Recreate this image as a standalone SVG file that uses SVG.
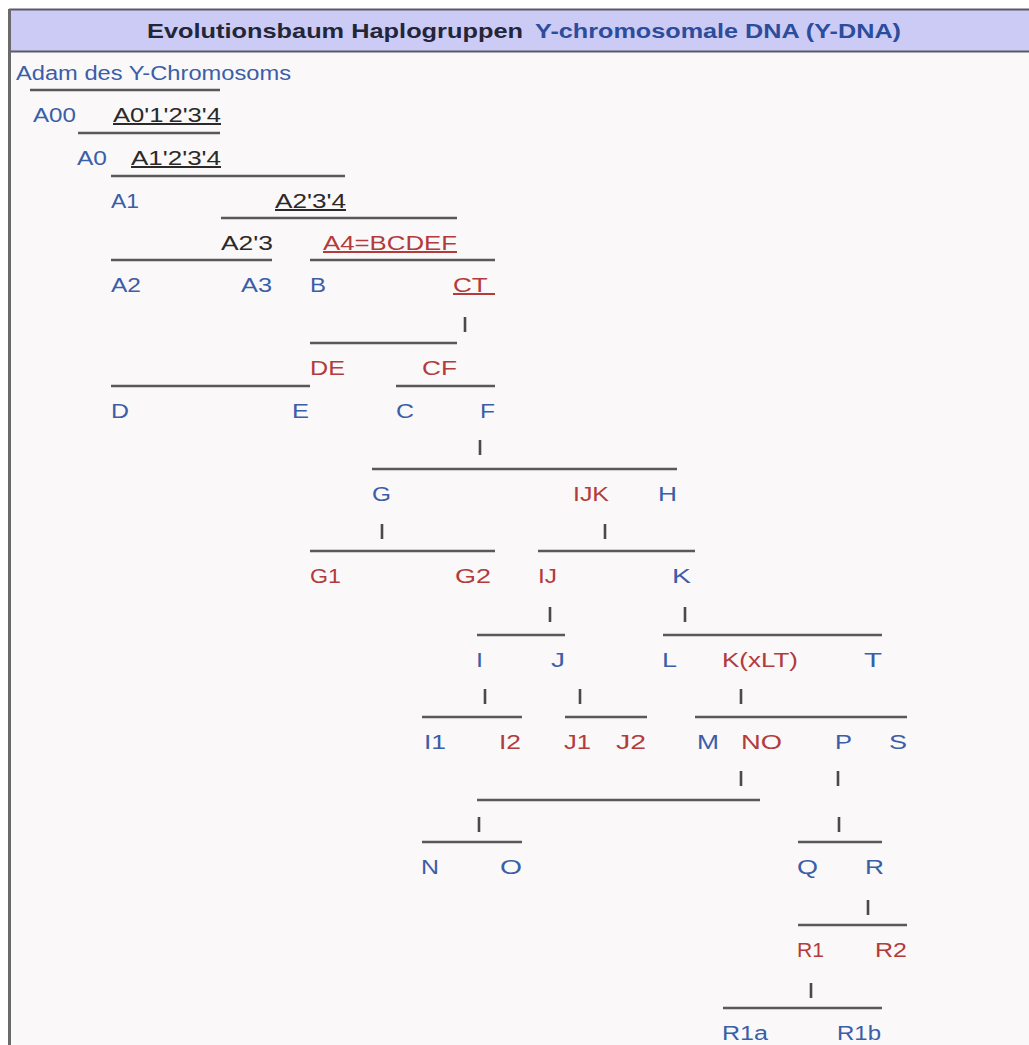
<svg xmlns="http://www.w3.org/2000/svg" width="1029" height="1045" viewBox="0 0 1029 1045">
<style>
text{font-family:"Liberation Sans",Arial,Helvetica,sans-serif;font-size:20px}
.t{font-size:20.5px;font-weight:bold}
.b{fill:#3a5ea8}
.r{fill:#b33b3b}
.k{fill:#2a2a2a}
.tk{fill:#232636}
.tb{fill:#2d4c9c}
.u{text-decoration:underline}
.h{stroke:#595959;stroke-width:2.4}
.v{stroke:#4a4a4a;stroke-width:2.6}
</style>
<rect x="0" y="0" width="1029" height="1045" fill="#ffffff"/>
<rect x="9" y="9" width="1025" height="1040" fill="#faf8f8"/>
<rect x="9" y="9" width="1025" height="43" fill="#cbcbf6"/>
<line x1="9" y1="9.5" x2="1029" y2="9.5" stroke="#5a5a66" stroke-width="2"/>
<line x1="9" y1="51.5" x2="1029" y2="51.5" stroke="#5a5a66" stroke-width="2"/>
<line x1="9.5" y1="9" x2="9.5" y2="1045" stroke="#6a6a6a" stroke-width="3"/>
<g id="title">
<text class="t tk" x="147" y="38" textLength="376" lengthAdjust="spacingAndGlyphs">Evolutionsbaum Haplogruppen</text>
<text class="t tb" x="535" y="38" textLength="366" lengthAdjust="spacingAndGlyphs">Y-chromosomale DNA (Y-DNA)</text>
</g>
<g id="connectors">
<line class="h" x1="30" y1="90" x2="220" y2="90"/>
<line class="h" x1="78" y1="133" x2="220" y2="133"/>
<line class="h" x1="111" y1="176" x2="345" y2="176"/>
<line class="h" x1="221" y1="218" x2="457" y2="218"/>
<line class="h" x1="111" y1="260" x2="272" y2="260"/>
<line class="h" x1="310" y1="260" x2="495" y2="260"/>
<line class="h" x1="310" y1="343" x2="457" y2="343"/>
<line class="h" x1="111" y1="386" x2="310" y2="386"/>
<line class="h" x1="396" y1="386" x2="495" y2="386"/>
<line class="h" x1="372" y1="469" x2="677" y2="469"/>
<line class="h" x1="310" y1="551" x2="495" y2="551"/>
<line class="h" x1="538" y1="551" x2="695" y2="551"/>
<line class="h" x1="477" y1="635" x2="565" y2="635"/>
<line class="h" x1="663" y1="635" x2="882" y2="635"/>
<line class="h" x1="422" y1="717" x2="522" y2="717"/>
<line class="h" x1="565" y1="717" x2="647" y2="717"/>
<line class="h" x1="695" y1="717" x2="907" y2="717"/>
<line class="h" x1="477" y1="800" x2="760" y2="800"/>
<line class="h" x1="422" y1="842" x2="522" y2="842"/>
<line class="h" x1="798" y1="842" x2="882" y2="842"/>
<line class="h" x1="798" y1="925" x2="907" y2="925"/>
<line class="h" x1="723" y1="1008" x2="882" y2="1008"/>
<line class="v" x1="465" y1="317" x2="465" y2="332"/>
<line class="v" x1="480" y1="440" x2="480" y2="455"/>
<line class="v" x1="382" y1="524" x2="382" y2="539"/>
<line class="v" x1="605" y1="524" x2="605" y2="539"/>
<line class="v" x1="550" y1="607" x2="550" y2="622"/>
<line class="v" x1="685" y1="607" x2="685" y2="622"/>
<line class="v" x1="485" y1="689" x2="485" y2="704"/>
<line class="v" x1="580" y1="689" x2="580" y2="704"/>
<line class="v" x1="741" y1="689" x2="741" y2="704"/>
<line class="v" x1="741" y1="771" x2="741" y2="786"/>
<line class="v" x1="838" y1="771" x2="838" y2="786"/>
<line class="v" x1="479" y1="817" x2="479" y2="832"/>
<line class="v" x1="839" y1="817" x2="839" y2="832"/>
<line class="v" x1="868" y1="900" x2="868" y2="915"/>
<line class="v" x1="811" y1="983" x2="811" y2="998"/>
</g>
<g id="n-Adam"><text class="b" x="16" y="80" textLength="275" lengthAdjust="spacingAndGlyphs">Adam des Y-Chromosoms</text></g>
<g id="n-A00"><text class="b" x="33" y="122" textLength="43" lengthAdjust="spacingAndGlyphs">A00</text></g>
<g id="n-A01234"><text class="k u" x="113" y="122" textLength="108" lengthAdjust="spacingAndGlyphs">A0'1'2'3'4</text></g>
<g id="n-A0"><text class="b" x="77" y="165" textLength="30" lengthAdjust="spacingAndGlyphs">A0</text></g>
<g id="n-A1234"><text class="k u" x="131" y="165" textLength="90" lengthAdjust="spacingAndGlyphs">A1'2'3'4</text></g>
<g id="n-A1"><text class="b" x="111" y="208" textLength="28" lengthAdjust="spacingAndGlyphs">A1</text></g>
<g id="n-A234"><text class="k u" x="275" y="208" textLength="71" lengthAdjust="spacingAndGlyphs">A2'3'4</text></g>
<g id="n-A23"><text class="k" x="221" y="250" textLength="52" lengthAdjust="spacingAndGlyphs">A2'3</text></g>
<g id="n-A4"><text class="r u" x="323" y="250" textLength="134" lengthAdjust="spacingAndGlyphs">A4=BCDEF</text></g>
<g id="n-A2"><text class="b" x="111" y="292" textLength="30" lengthAdjust="spacingAndGlyphs">A2</text></g>
<g id="n-A3"><text class="b" x="241" y="292" textLength="31" lengthAdjust="spacingAndGlyphs">A3</text></g>
<g id="n-B"><text class="b" x="310" y="292" textLength="16" lengthAdjust="spacingAndGlyphs">B</text></g>
<g id="n-CT"><text class="r u" x="453" y="292" textLength="42" lengthAdjust="spacingAndGlyphs">CT&#160;</text></g>
<g id="n-DE"><text class="r" x="310" y="375" textLength="35" lengthAdjust="spacingAndGlyphs">DE</text></g>
<g id="n-CF"><text class="r" x="422" y="375" textLength="35" lengthAdjust="spacingAndGlyphs">CF</text></g>
<g id="n-D"><text class="b" x="111" y="418" textLength="18" lengthAdjust="spacingAndGlyphs">D</text></g>
<g id="n-E"><text class="b" x="292" y="418" textLength="17" lengthAdjust="spacingAndGlyphs">E</text></g>
<g id="n-C"><text class="b" x="396" y="418" textLength="18" lengthAdjust="spacingAndGlyphs">C</text></g>
<g id="n-F"><text class="b" x="480" y="418" textLength="15" lengthAdjust="spacingAndGlyphs">F</text></g>
<g id="n-G"><text class="b" x="372" y="501" textLength="19" lengthAdjust="spacingAndGlyphs">G</text></g>
<g id="n-IJK"><text class="r" x="573" y="501" textLength="36" lengthAdjust="spacingAndGlyphs">IJK</text></g>
<g id="n-H"><text class="b" x="658" y="501" textLength="19" lengthAdjust="spacingAndGlyphs">H</text></g>
<g id="n-G1"><text class="r" x="310" y="583" textLength="31" lengthAdjust="spacingAndGlyphs">G1</text></g>
<g id="n-G2"><text class="r" x="455" y="583" textLength="36" lengthAdjust="spacingAndGlyphs">G2</text></g>
<g id="n-IJ"><text class="r" x="538" y="583" textLength="19" lengthAdjust="spacingAndGlyphs">IJ</text></g>
<g id="n-K"><text class="b" x="672" y="583" textLength="19" lengthAdjust="spacingAndGlyphs">K</text></g>
<g id="n-I"><text class="b" x="476" y="667" textLength="7" lengthAdjust="spacingAndGlyphs">I</text></g>
<g id="n-J"><text class="b" x="551" y="667" textLength="14" lengthAdjust="spacingAndGlyphs">J</text></g>
<g id="n-L"><text class="b" x="662" y="667" textLength="15" lengthAdjust="spacingAndGlyphs">L</text></g>
<g id="n-KxLT"><text class="r" x="722" y="667" textLength="76" lengthAdjust="spacingAndGlyphs">K(xLT)</text></g>
<g id="n-T"><text class="b" x="864" y="667" textLength="18" lengthAdjust="spacingAndGlyphs">T</text></g>
<g id="n-I1"><text class="b" x="424" y="749" textLength="22" lengthAdjust="spacingAndGlyphs">I1</text></g>
<g id="n-I2"><text class="r" x="499" y="749" textLength="22" lengthAdjust="spacingAndGlyphs">I2</text></g>
<g id="n-J1"><text class="r" x="564" y="749" textLength="27" lengthAdjust="spacingAndGlyphs">J1</text></g>
<g id="n-J2"><text class="r" x="616" y="749" textLength="30" lengthAdjust="spacingAndGlyphs">J2</text></g>
<g id="n-M"><text class="b" x="697" y="749" textLength="22" lengthAdjust="spacingAndGlyphs">M</text></g>
<g id="n-NO"><text class="r" x="741" y="749" textLength="41" lengthAdjust="spacingAndGlyphs">NO</text></g>
<g id="n-P"><text class="b" x="835" y="749" textLength="17" lengthAdjust="spacingAndGlyphs">P</text></g>
<g id="n-S"><text class="b" x="889" y="749" textLength="18" lengthAdjust="spacingAndGlyphs">S</text></g>
<g id="n-N"><text class="b" x="421" y="874" textLength="18" lengthAdjust="spacingAndGlyphs">N</text></g>
<g id="n-O"><text class="b" x="500" y="874" textLength="22" lengthAdjust="spacingAndGlyphs">O</text></g>
<g id="n-Q"><text class="b" x="797" y="874" textLength="21" lengthAdjust="spacingAndGlyphs">Q</text></g>
<g id="n-R"><text class="b" x="865" y="874" textLength="19" lengthAdjust="spacingAndGlyphs">R</text></g>
<g id="n-R1"><text class="r" x="797" y="957" textLength="27" lengthAdjust="spacingAndGlyphs">R1</text></g>
<g id="n-R2"><text class="r" x="875" y="957" textLength="32" lengthAdjust="spacingAndGlyphs">R2</text></g>
<g id="n-R1a"><text class="b" x="722" y="1040" textLength="46" lengthAdjust="spacingAndGlyphs">R1a</text></g>
<g id="n-R1b"><text class="b" x="837" y="1040" textLength="44" lengthAdjust="spacingAndGlyphs">R1b</text></g>
</svg>
